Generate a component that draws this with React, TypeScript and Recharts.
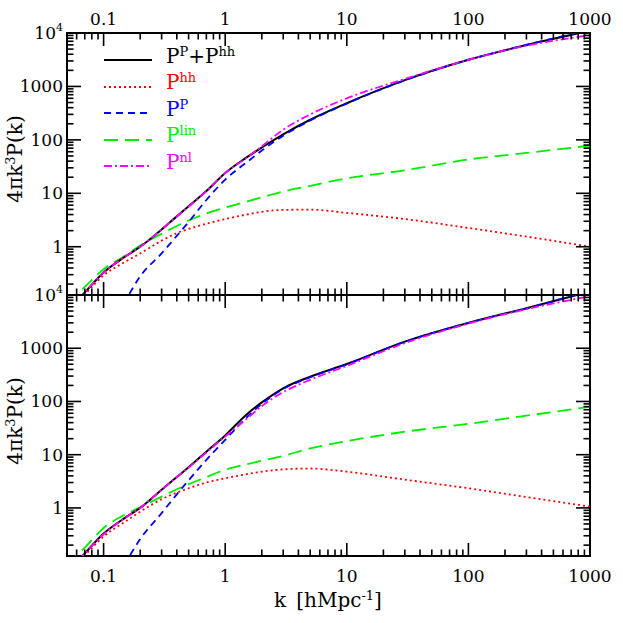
import React from 'react'
import { LineChart, Line, XAxis, YAxis, ReferenceArea, Legend } from 'recharts'

// k grid shared by every curve, in h/Mpc
const kGrid = [0.05, 0.07, 0.1, 0.15, 0.2, 0.3, 0.4, 0.5, 0.7, 1, 1.5, 2, 3, 5, 10, 30, 100, 300, 1000]

// upper panel
const topTotal = [0.063, 0.14, 0.33, 0.65, 1.0, 2.1, 3.7, 5.7, 11, 24, 47, 72, 127, 238, 485, 1310, 3150, 5970, 11000]
const topHH = [0.056, 0.128, 0.29, 0.52, 0.75, 1.3, 1.8, 2.15, 2.7, 3.3, 4.0, 4.5, 4.9, 4.95, 4.3, 3.3, 2.25, 1.55, 1.0]
const topPP = [0.003, 0.007, 0.021, 0.095, 0.28, 0.75, 1.6, 2.9, 7.5, 18, 38, 63, 120, 230, 480, 1300, 3150, 5980, 11500]
const topLin = [0.085, 0.177, 0.38, 0.68, 1.05, 1.75, 2.45, 3.1, 4.2, 5.4, 7.0, 8.4, 10.8, 13.8, 19, 27, 43, 57, 78]
const topNl = [0.063, 0.14, 0.33, 0.65, 1.0, 2.1, 3.7, 5.6, 11, 24, 46, 76, 155, 300, 600, 1380, 3150, 5800, 9100]

// lower panel
const botTotal = [0.063, 0.14, 0.33, 0.65, 1.0, 2.2, 3.8, 5.8, 11.4, 23, 57, 96, 177, 291, 505, 1330, 2990, 5650, 11600]
const botHH = [0.056, 0.128, 0.29, 0.55, 0.85, 1.46, 1.94, 2.34, 3.0, 3.6, 4.3, 4.8, 5.3, 5.5, 4.8, 3.4, 2.34, 1.6, 1.06]
const botPP = [0.003, 0.007, 0.02, 0.09, 0.26, 0.8, 1.8, 3.3, 8, 19, 50, 90, 171, 285, 500, 1320, 2990, 5600, 12000]
const botLin = [0.085, 0.18, 0.42, 0.75, 1.03, 1.63, 2.24, 2.8, 3.8, 5.2, 6.6, 7.7, 9.5, 13.1, 18, 27, 38, 54, 80]
const botNl = [0.063, 0.14, 0.32, 0.65, 1.0, 2.2, 3.8, 5.7, 11, 22, 47, 82, 150, 255, 465, 1250, 2900, 5400, 9500]

// axis ticks
const xMajor = [0.1, 1, 10, 100, 1000]
const xLabels = ['0.1', '1', '10', '100', '1000']
const yMajor = [1, 10, 100, 1000, 10000]
const yLabels = ['1', '10', '100', '1000', '10^4']
const minorSteps = [2, 3, 4, 5, 6, 7, 8, 9]

const xTicks: number[] = [0.06, 0.07, 0.08, 0.09]
xMajor.forEach((m) => {
  xTicks.push(m)
  if (m < 1000) minorSteps.forEach((s) => xTicks.push(+(m * s).toPrecision(3)))
})
const yTicks: number[] = minorSteps.map((s) => +(0.1 * s).toPrecision(3))
yMajor.forEach((m) => {
  yTicks.push(m)
  if (m < 10000) minorSteps.forEach((s) => yTicks.push(m * s))
})

const series = [
  { key: 'hh', color: '#ff0000', dash: '2 3' },
  { key: 'lin', color: '#00ee00', dash: '14 7' },
  { key: 'total', color: '#000000', dash: undefined },
  { key: 'pp', color: '#0000ff', dash: '7 5' },
  { key: 'nl', color: '#ff00ff', dash: '8 3 2 3' },
]
const legendOrder = ['total', 'hh', 'pp', 'lin', 'nl']

const FONT = '"DejaVu Serif", serif'
const PLOT_W = 523

function rows(total: number[], hh: number[], pp: number[], lin: number[], nl: number[]) {
  return kGrid.map((k, i) => ({ k, total: total[i], hh: hh[i], pp: pp[i], lin: lin[i], nl: nl[i] }))
}
const topData = rows(topTotal, topHH, topPP, topLin, topNl)
const botData = rows(botTotal, botHH, botPP, botLin, botNl)

const makeXTick = (side: 'top' | 'bottom', plotH: number, gap: number) => (props: any) => {
  const { x, y, payload } = props
  const idx = xMajor.indexOf(payload.value)
  const len = idx >= 0 ? 13 : 6.5
  const dir = side === 'top' ? 1 : -1
  const edge = y + dir * gap
  const other = edge + dir * plotH
  return (
    <g>
      <line x1={x} x2={x} y1={edge} y2={edge + dir * len} stroke="#000" strokeWidth={1.6} />
      <line x1={x} x2={x} y1={other} y2={other - dir * len} stroke="#000" strokeWidth={1.6} />
      {idx >= 0 && (
        <text x={x} y={y} textAnchor="middle" dominantBaseline="central" fontFamily={FONT} fontSize={17} fill="#000">
          {xLabels[idx]}
        </text>
      )}
    </g>
  )
}

const makeYTick = (gap: number) => (props: any) => {
  const { x, y, payload } = props
  const idx = yMajor.indexOf(payload.value)
  const len = idx >= 0 ? 14 : 6.5
  const edge = x + gap
  const other = edge + PLOT_W
  const lab = idx >= 0 ? yLabels[idx] : ''
  return (
    <g>
      <line x1={edge} x2={edge + len} y1={y} y2={y} stroke="#000" strokeWidth={1.6} />
      <line x1={other} x2={other - len} y1={y} y2={y} stroke="#000" strokeWidth={1.6} />
      {idx >= 0 && (
        <text x={x} y={y} textAnchor="end" dominantBaseline="central" fontFamily={FONT} fontSize={17} fill="#000">
          {lab === '10^4' ? (
            <>
              <tspan>10</tspan>
              <tspan dy={-6} fontSize={11}>4</tspan>
            </>
          ) : (
            lab
          )}
        </text>
      )}
    </g>
  )
}

const supStyle: React.CSSProperties = { fontSize: 13, verticalAlign: 0, position: 'relative', top: -7 }

const legendText: Record<string, React.ReactNode> = {
  total: <>P<span style={supStyle}>P</span>+P<span style={supStyle}>hh</span></>,
  hh: <>P<span style={supStyle}>hh</span></>,
  pp: <>P<span style={supStyle}>P</span></>,
  lin: <>P<span style={supStyle}>lin</span></>,
  nl: <>P<span style={supStyle}>nl</span></>,
}

function LegendBox() {
  return (
    <div style={{ fontFamily: FONT, fontSize: 20 }}>
      {legendOrder.map((key) => {
        const s = series.find((d) => d.key === key)!
        return (
          <div key={key} style={{ display: 'flex', alignItems: 'center', height: 26.5 }}>
            <svg width={48} height={4} style={{ display: 'block' }}>
              <line x1={0} x2={48} y1={2} y2={2} stroke={s.color} strokeWidth={2} strokeDasharray={s.dash} />
            </svg>
            <span style={{ marginLeft: 14, color: s.color, lineHeight: '20px', position: 'relative', top: -3 }}>
              {legendText[key]}
            </span>
          </div>
        )
      })}
    </div>
  )
}

function Panel({ data, top, height, margin, side, plotH, legend }: any) {
  const gap = side === 'top' ? 14 : 20
  return (
    <div style={{ position: 'absolute', left: 0, top }}>
      <LineChart width={623} height={height} data={data} margin={margin}>
        <XAxis
          dataKey="k"
          type="number"
          scale="log"
          domain={[0.05, 1000]}
          allowDataOverflow
          orientation={side}
          height={1}
          ticks={xTicks}
          interval={0}
          tickSize={0}
          tickMargin={gap}
          tickLine={false}
          axisLine={false}
          tick={makeXTick(side, plotH, gap)}
        />
        <YAxis
          type="number"
          scale="log"
          domain={[0.125, 10000]}
          allowDataOverflow
          width={1}
          ticks={yTicks}
          interval={0}
          tickSize={0}
          tickMargin={4}
          tickLine={false}
          axisLine={false}
          tick={makeYTick(4)}
        />
        {series.map((s) => (
          <Line
            key={s.key}
            dataKey={s.key}
            type="monotone"
            stroke={s.color}
            strokeWidth={s.key === 'total' ? 2 : 1.8}
            strokeDasharray={s.dash}
            dot={false}
            activeDot={false}
            isAnimationActive={false}
          />
        ))}
        <ReferenceArea x1={0.05} x2={1000} y1={0.125} y2={10000} fill="none" stroke="#000" strokeWidth={2} ifOverflow="visible" />
        {legend && (
          <Legend
            layout="horizontal"
            verticalAlign="middle"
            align="center"
            content={() => <LegendBox />}
            wrapperStyle={{ left: 104, top: 47, width: 'auto' }}
          />
        )}
      </LineChart>
    </div>
  )
}

const titleStyle: React.CSSProperties = {
  position: 'absolute',
  fontFamily: FONT,
  fontSize: 20,
  whiteSpace: 'nowrap',
  color: '#000',
}

export default function App() {
  return (
    <div style={{ position: 'absolute', left: 0, top: 0, width: 623, height: 623, background: '#fff' }}>
      <Panel data={topData} top={0} height={300} margin={{ top: 32, right: 33, bottom: 5, left: 66 }} side="top" plotH={262} legend />
      <Panel data={botData} top={270} height={353} margin={{ top: 25, right: 33, bottom: 66, left: 66 }} side="bottom" plotH={261} />
      <div style={{ ...titleStyle, left: 15, top: 159, transform: 'translate(-50%, -50%) rotate(-90deg)' }}>
        4πk<span style={{ fontSize: 13, position: 'relative', top: -7 }}>3</span>P(k)
      </div>
      <div style={{ ...titleStyle, left: 15, top: 421, transform: 'translate(-50%, -50%) rotate(-90deg)' }}>
        4πk<span style={{ fontSize: 13, position: 'relative', top: -7 }}>3</span>P(k)
      </div>
      <div style={{ ...titleStyle, left: 328, top: 600, transform: 'translate(-50%, -50%)' }}>
        k&ensp;[hMpc<span style={{ fontSize: 13, position: 'relative', top: -7 }}>-1</span>]
      </div>
    </div>
  )
}
